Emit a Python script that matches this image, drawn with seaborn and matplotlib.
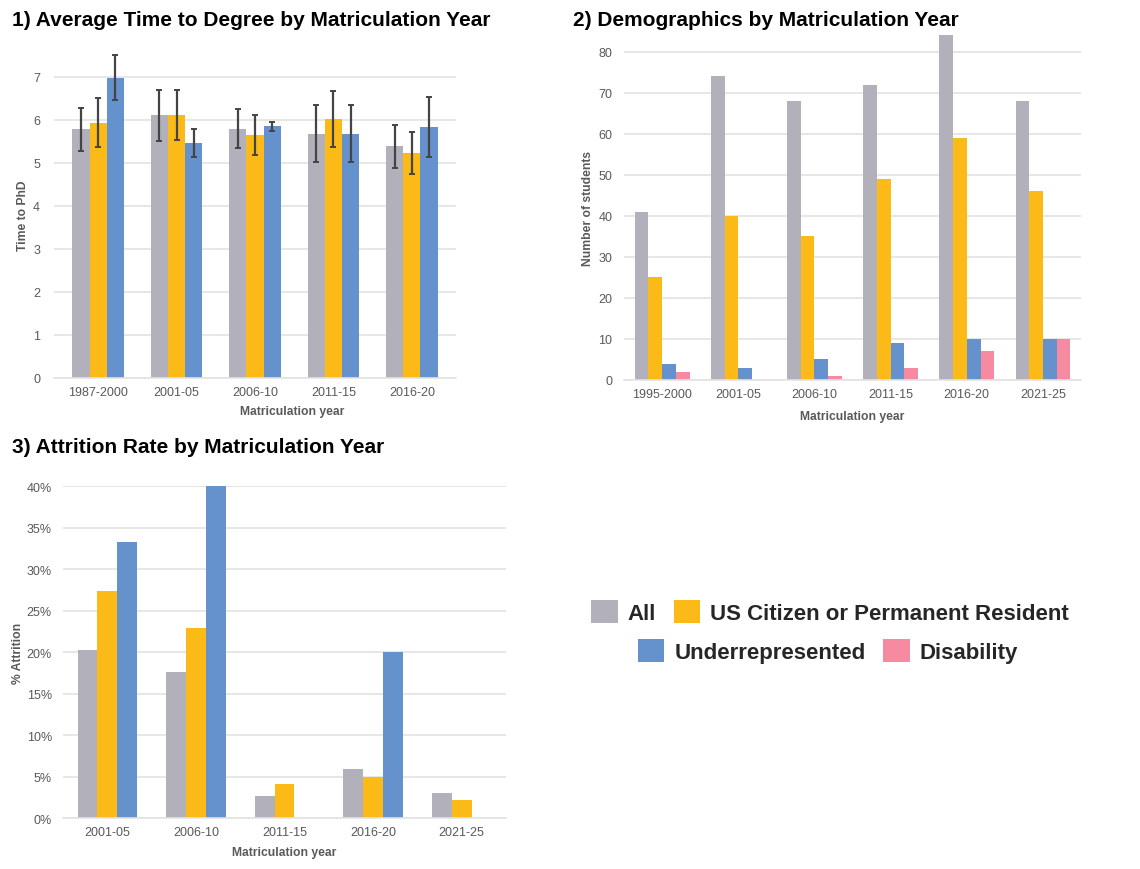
import matplotlib
matplotlib.use("Agg")
import matplotlib.pyplot as plt
from matplotlib.patches import Patch
from matplotlib.ticker import PercentFormatter
import seaborn as sns
import pandas as pd

# ---- data ----
groups = ["All", "US Citizen or Permanent Resident", "Underrepresented", "Disability"]
colors = ["#B2B0BB", "#FBBA17", "#6592CC", "#F58AA1"]

time_years = ["1987-2000", "2001-05", "2006-10", "2011-15", "2016-20"]
time_all = [5.78, 6.10, 5.79, 5.68, 5.38]
time_us = [5.93, 6.11, 5.64, 6.02, 5.23]
time_urm = [6.98, 5.46, 5.85, 5.68, 5.84]
time_all_err = [0.50, 0.60, 0.45, 0.66, 0.50]
time_us_err = [0.57, 0.58, 0.46, 0.65, 0.48]
time_urm_err = [0.52, 0.33, 0.11, 0.66, 0.70]

demo_years = ["1995-2000", "2001-05", "2006-10", "2011-15", "2016-20", "2021-25"]
demo_all = [41, 74, 68, 72, 84, 68]
demo_us = [25, 40, 35, 49, 59, 46]
demo_urm = [4, 3, 5, 9, 10, 10]
demo_dis = [2, 0, 1, 3, 7, 10]

attr_years = ["2001-05", "2006-10", "2011-15", "2016-20", "2021-25"]
attr_all = [0.203, 0.176, 0.027, 0.059, 0.030]
attr_us = [0.274, 0.229, 0.041, 0.050, 0.022]
attr_urm = [0.333, 0.400, 0.0, 0.200, 0.0]

TXT = "#595959"
GRID = "#E3E3E3"


def long_df(years, series):
    rows = []
    for name, vals in series:
        for y, v in zip(years, vals):
            rows.append({"year": y, "group": name, "value": v})
    return pd.DataFrame(rows)


def style_axis(ax, xlabel, ylabel, xl_coords, yl_coords, ypad):
    for s in ["top", "right", "left"]:
        ax.spines[s].set_visible(False)
    ax.spines["bottom"].set_color(GRID)
    ax.spines["bottom"].set_linewidth(1.2)
    ax.grid(axis="y", color=GRID, linewidth=1.2)
    ax.grid(axis="x", visible=False)
    ax.set_axisbelow(True)
    ax.tick_params(length=0, labelsize=9, labelcolor=TXT)
    ax.tick_params(axis="y", pad=ypad)
    ax.tick_params(axis="x", pad=6)
    ax.set_xlabel(xlabel, fontsize=8.7, fontweight="bold", color=TXT, va="top")
    ax.set_ylabel(ylabel, fontsize=8.7, fontweight="bold", color=TXT)
    ax.xaxis.set_label_coords(*xl_coords)
    ax.yaxis.set_label_coords(*yl_coords)
    if ax.get_legend():
        ax.get_legend().remove()


sns.set_theme(style="white")
plt.rcParams["font.family"] = ["Liberation Sans", "DejaVu Sans"]

fig = plt.figure(figsize=(11.4, 8.7), dpi=100)
bar_kw = dict(x="year", y="value", hue="group", errorbar=None,
              saturation=1, linewidth=0)

# 1) time to degree
ax1 = fig.add_axes([0.0474, 0.5644, 0.3526, 0.3759])
df1 = long_df(time_years, [(groups[0], time_all), (groups[1], time_us), (groups[2], time_urm)])
sns.barplot(data=df1, hue_order=groups[:3], palette=colors[:3], width=0.66, ax=ax1, **bar_kw)
for cont, errs in zip(ax1.containers, [time_all_err, time_us_err, time_urm_err]):
    xs = [b.get_x() + b.get_width() / 2 for b in cont]
    hs = [b.get_height() for b in cont]
    ax1.errorbar(xs, hs, yerr=errs, fmt="none", ecolor="#444444",
                 elinewidth=1.6, capsize=2.5, capthick=1.4)
ax1.set_ylim(0, 7.6)
ax1.set_yticks(range(0, 8))
style_axis(ax1, "Matriculation year", "Time to PhD", (0.593, -0.083), (-0.062, 0.5), 10)

# 2) demographics
ax2 = fig.add_axes([0.5474, 0.5621, 0.4009, 0.396])
df2 = long_df(demo_years, list(zip(groups, [demo_all, demo_us, demo_urm, demo_dis])))
sns.barplot(data=df2, hue_order=groups, palette=colors, width=0.72, ax=ax2, **bar_kw)
ax2.set_ylim(0, 84)
ax2.set_yticks(range(0, 81, 10))
style_axis(ax2, "Matriculation year", "Number of students", (0.5, -0.087), (-0.0656, 0.5), 8.5)

# 3) attrition
ax3 = fig.add_axes([0.0553, 0.0586, 0.3886, 0.3816])
df3 = long_df(attr_years, [(groups[0], attr_all), (groups[1], attr_us), (groups[2], attr_urm)])
sns.barplot(data=df3, hue_order=groups[:3], palette=colors[:3], width=0.67, ax=ax3, **bar_kw)
ax3.set_ylim(0, 0.40)
ax3.set_yticks([i / 100 for i in range(0, 41, 5)])
ax3.yaxis.set_major_formatter(PercentFormatter(1.0, decimals=0))
style_axis(ax3, "Matriculation year", "% Attrition", (0.5, -0.084), (-0.088, 0.5), 8)

# titles
title_kw = dict(fontsize=15, fontweight="bold", color="black", va="center", ha="left")
fig.text(12 / 1140, 1 - 20 / 870, "1) Average Time to Degree by Matriculation Year", **title_kw)
fig.text(573 / 1140, 1 - 20 / 870, "2) Demographics by Matriculation Year", **title_kw)
fig.text(12 / 1140, 1 - 448 / 870, "3) Attrition Rate by Matriculation Year", **title_kw)

# legend in two centred rows
handles = [Patch(facecolor=c, edgecolor="none") for c in colors]
leg_kw = dict(loc="center", ncol=2, frameon=False, borderpad=0,
              handlelength=1.2, handleheight=1.2, handletextpad=0.45,
              columnspacing=0.8, prop={"size": 16, "weight": "bold"})
fig.legend(handles[:2], groups[:2], bbox_to_anchor=(830 / 1140, 1 - 613 / 870), **leg_kw)
fig.legend(handles[2:], groups[2:], bbox_to_anchor=(828 / 1140, 1 - 652 / 870), **leg_kw)

fig.savefig("out.png", dpi=100)
